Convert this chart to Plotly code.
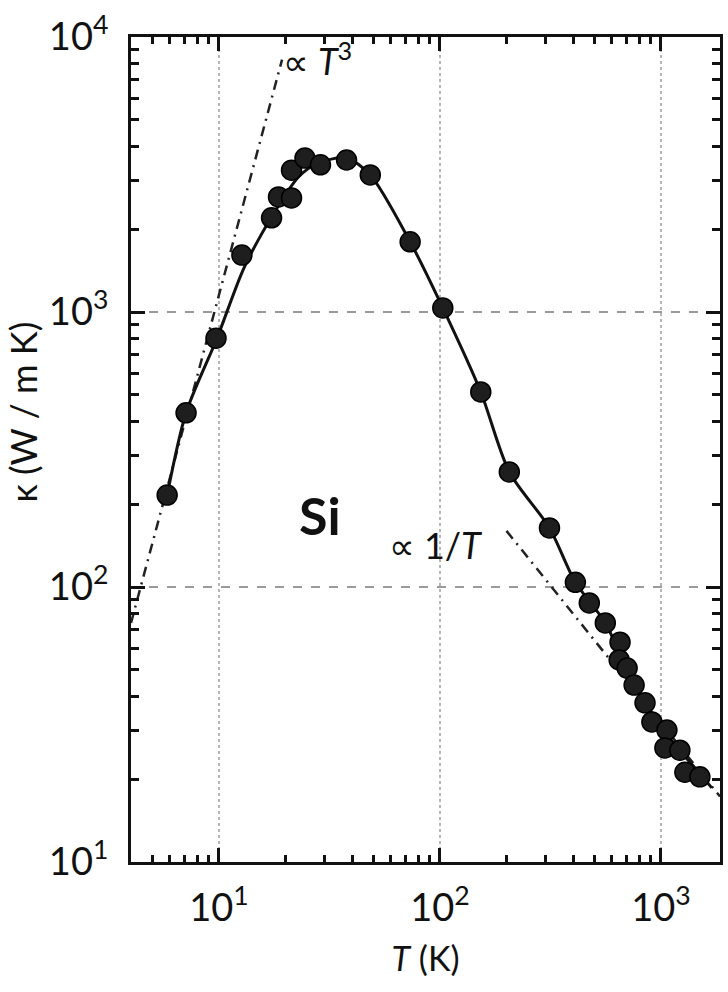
import numpy as np
import plotly.graph_objects as go

# Thermal conductivity of silicon: measured points (T in K, kappa in W/m K)
meas_T = [5.83, 7.1, 9.7, 12.7, 17.3, 18.6, 21.3, 21.3, 24.5, 28.8, 37.8, 48.4,
          73.3, 103, 153, 206, 313, 410, 474, 560, 653, 647, 703, 756, 847,
          910, 1064, 1042, 1218, 1283, 1500]
meas_k = [216, 430, 803, 1610, 2200, 2620, 2600, 3280, 3630, 3430, 3570, 3150,
          1800, 1035, 512, 262, 164, 104, 87.5, 74, 63, 54.3, 50.7, 44.0, 37.9,
          32.3, 30.2, 26.0, 25.5, 21.2, 20.4]

# Smooth trend curve through the data
curve_T = [5.83, 7.1, 9.8, 12.97, 17.3, 22.9, 28.2, 37.8, 48.4, 73.3, 103, 153,
           206, 313, 410, 560, 756, 1064, 1452, 1698]
curve_k = [216, 430, 803, 1445, 2214, 3097, 3484, 3631, 3150, 1800, 1035, 512,
           262, 164, 104, 74, 44, 29, 21.6, 18.6]

# Limiting power-law guides
low_T = [4.0, 19.3]
low_k = [74, 8270]
high_T = [200, 1850]
high_k = [160, 17.3]

# Axis ticks
major_x = [10, 100, 1000]
major_x_text = ["10<sup>1</sup>", "10<sup>2</sup>", "10<sup>3</sup>"]
major_y = [10, 100, 1000, 10000]
major_y_text = ["10<sup>1</sup>", "10<sup>2</sup>", "10<sup>3</sup>", "10<sup>4</sup>"]
minor_x = [4, 5, 6, 7, 8, 9, 20, 30, 40, 50, 60, 70, 80, 90,
           200, 300, 400, 500, 600, 700, 800, 900]
minor_y = [20, 30, 40, 50, 60, 70, 80, 90, 200, 300, 400, 500, 600, 700, 800, 900,
           2000, 3000, 4000, 5000, 6000, 7000, 8000, 9000]

FONT = "Lato, 'DejaVu Sans', sans-serif"
INK = "#111111"

fig = go.Figure()

fig.add_trace(go.Scatter(
    x=low_T, y=low_k, mode="lines",
    line=dict(color="#222222", width=2.5, dash="10px,6px,2px,6px"),
    hoverinfo="skip", showlegend=False))
fig.add_trace(go.Scatter(
    x=high_T, y=high_k, mode="lines",
    line=dict(color="#222222", width=2.5, dash="10px,6px,2px,6px"),
    hoverinfo="skip", showlegend=False))
fig.add_trace(go.Scatter(
    x=curve_T, y=curve_k, mode="lines",
    line=dict(color=INK, width=3, shape="spline", smoothing=0.8),
    showlegend=False))
fig.add_trace(go.Scatter(
    x=meas_T, y=meas_k, mode="markers",
    marker=dict(size=20, color="#1e1e1e", line=dict(color="#000000", width=1.5)),
    showlegend=False))

fig.add_annotation(x=np.log10(28.8), y=np.log10(183), xref="x", yref="y",
                   text="<b>Si</b>", showarrow=False,
                   font=dict(family=FONT, size=52, color=INK))
fig.add_annotation(x=np.log10(28.0), y=np.log10(8300), xref="x", yref="y",
                   text="∝ <i>T</i><sup>3</sup>", showarrow=False,
                   font=dict(family=FONT, size=36, color=INK))
fig.add_annotation(x=np.log10(95), y=np.log10(142), xref="x", yref="y",
                   text="∝ 1/<i>T</i>", showarrow=False,
                   font=dict(family=FONT, size=36, color=INK))
fig.add_annotation(x=-0.183, y=0.545, xref="paper", yref="paper",
                   xanchor="center", yanchor="middle",
                   text="κ (W / m K)", textangle=-90, showarrow=False,
                   font=dict(family=FONT, size=36, color=INK))

fig.update_xaxes(
    type="log", range=[np.log10(4.0), np.log10(1850)],
    tickvals=major_x, ticktext=major_x_text,
    ticks="inside", ticklen=14, tickwidth=2.5, tickcolor=INK,
    minor=dict(tickvals=minor_x, ticks="inside", ticklen=7, tickwidth=2.5,
               tickcolor=INK, showgrid=False),
    showline=True, linewidth=3, linecolor=INK, mirror="allticks",
    showgrid=True, gridcolor="#b5b5b5", gridwidth=1.5, griddash="dot",
    ticklabelstandoff=10,
    tickfont=dict(family=FONT, size=38, color=INK),
    title=dict(text="<i>T</i> (K)", font=dict(family=FONT, size=34, color=INK),
               standoff=20),
)
fig.update_yaxes(
    type="log", range=[1, 4],
    tickvals=major_y, ticktext=major_y_text,
    ticks="inside", ticklen=14, tickwidth=2.5, tickcolor=INK,
    minor=dict(tickvals=minor_y, ticks="inside", ticklen=8, tickwidth=2.5,
               tickcolor=INK, showgrid=False),
    showline=True, linewidth=3, linecolor=INK, mirror="allticks",
    showgrid=True, gridcolor="#9a9a9a", gridwidth=1.5, griddash="dash",
    ticklabelstandoff=12,
    tickfont=dict(family=FONT, size=38, color=INK),
)

fig.update_layout(
    width=728, height=992,
    margin=dict(l=131, r=5, t=37, b=130),
    paper_bgcolor="white", plot_bgcolor="white",
    showlegend=False,
)

fig.write_html("out.html")
